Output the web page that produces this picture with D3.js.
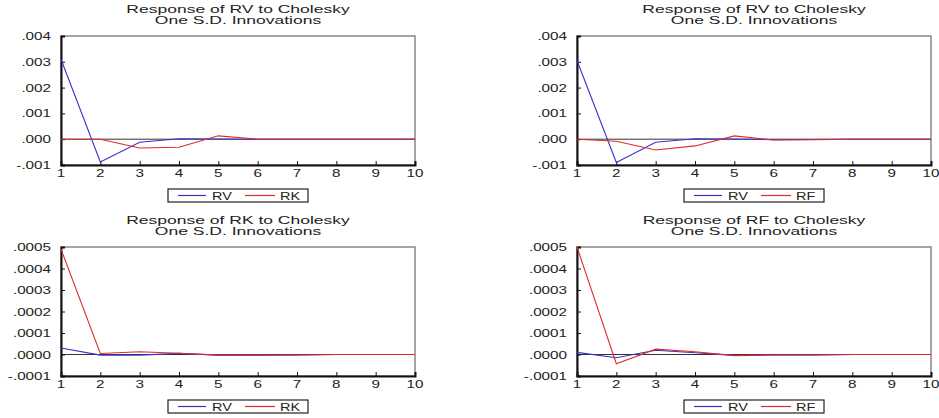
<!DOCTYPE html>
<html><head><meta charset="utf-8">
<script src="https://cdn.jsdelivr.net/npm/d3@7"></script>
<style>body{margin:0;background:#fff}svg{display:block}text{font-family:"Liberation Sans",Arial,sans-serif;fill:#222}</style>
</head><body><svg id="c" width="939" height="418"></svg>
<script>
const periods = [1,2,3,4,5,6,7,8,9,10];
const titles = ["Response of RV to Cholesky","Response of RV to Cholesky","Response of RK to Cholesky","Response of RF to Cholesky"];
const subtitle = "One S.D. Innovations";
const seriesNames = [["RV","RK"],["RV","RF"],["RV","RK"],["RV","RF"]];
const p1_RV = [0.0031,-0.00088,-0.00012,0.00002,0.00001,0,0,0,0,0];
const p1_RK = [0,0,-0.00034,-0.00031,0.00013,0,0,0,0,0];
const p2_RV = [0.00305,-0.0009,-0.00012,0.00002,0.00001,-0.00002,-0.00001,0,0,0];
const p2_RF = [0,-0.00008,-0.00042,-0.00026,0.00013,-0.00003,-0.00002,0,0,0];
const p3_RV = [0.00003,-0.000003,-0.000003,0.000005,-0.000003,-0.000003,-0.000002,0,0,0];
const p3_RK = [0.00049,0.000005,0.000013,0.000006,-0.000003,-0.000003,-0.000002,0,0,0];
const p4_RV = [0.00001,-0.000015,0.00002,0.000008,-0.000004,-0.000002,-0.000002,0,0,0];
const p4_RF = [0.0005,-0.000043,0.000025,0.000013,-0.000005,-0.000002,-0.000002,0,0,0];
const yTicksTop = [-0.001,0,0.001,0.002,0.003,0.004];
const yLabelsTop = ["-.001",".000",".001",".002",".003",".004"];
const yTicksBot = [-0.0001,0,0.0001,0.0002,0.0003,0.0004,0.0005];
const yLabelsBot = ["-.0001",".0000",".0001",".0002",".0003",".0004",".0005"];

const panels = [
  {title:titles[0], names:seriesNames[0], data:[p1_RV,p1_RK], ticks:yTicksTop, labels:yLabelsTop, left:61, top:36},
  {title:titles[1], names:seriesNames[1], data:[p2_RV,p2_RF], ticks:yTicksTop, labels:yLabelsTop, left:577, top:36},
  {title:titles[2], names:seriesNames[2], data:[p3_RV,p3_RK], ticks:yTicksBot, labels:yLabelsBot, left:61, top:247},
  {title:titles[3], names:seriesNames[3], data:[p4_RV,p4_RF], ticks:yTicksBot, labels:yLabelsBot, left:577, top:247}
];
const W = 354, H = 129, SX = 1.45;
const colors = ["#3333cc","#e02a2a"];
const svg = d3.select("#c");

function stext(g, x, y, str, size, anchor, sx){
  return g.append("text").attr("transform",`translate(${x},${y}) scale(${sx||SX},1)`)
   .attr("text-anchor",anchor).style("font-size",size+"px").text(str);
}

panels.forEach(p=>{
  const g = svg.append("g");
  const x = d3.scaleLinear().domain([1,10]).range([p.left,p.left+W]);
  const y = d3.scaleLinear().domain([p.ticks[0],p.ticks[p.ticks.length-1]]).range([p.top+H,p.top]);
  stext(g, p.left+W/2, p.top-23, p.title, 10, "middle", 1.75);
  stext(g, p.left+W/2, p.top-12, subtitle, 10, "middle", 1.75);
  g.append("rect").attr("x",p.left).attr("y",p.top).attr("width",W).attr("height",H)
   .attr("fill","none").attr("stroke","#6a6a6a").attr("stroke-width",1.2);
  g.append("line").attr("x1",p.left).attr("x2",p.left+W).attr("y1",y(0)).attr("y2",y(0))
   .attr("stroke","#333").attr("stroke-width",1);
  const ya = d3.axisLeft(y).tickValues(p.ticks).tickSize(-4).tickFormat("");
  const yg = g.append("g").attr("transform",`translate(${p.left},0)`).call(ya);
  yg.select(".domain").attr("stroke","#111").attr("stroke-width",2);
  yg.selectAll(".tick line").attr("stroke","#111");
  p.ticks.forEach((t,i)=>{
    stext(g, p.left-10, y(t)+4, p.labels[i], 10.5, "end");
  });
  const xa = d3.axisBottom(x).tickValues(periods).tickSize(-4).tickFormat("");
  const xg = g.append("g").attr("transform",`translate(0,${p.top+H})`).call(xa);
  xg.select(".domain").attr("stroke","#111").attr("stroke-width",2);
  xg.selectAll(".tick line").attr("stroke","#111");
  periods.forEach(d=>{
    stext(g, x(d), p.top+H+12, d3.format("d")(d), 10.5, "middle");
  });
  const line = d3.line().x((d,i)=>x(periods[i])).y(d=>y(d));
  p.data.forEach((s,k)=>{
    g.append("path").datum(s).attr("d",line).attr("fill","none")
     .attr("stroke",colors[k]).attr("stroke-width",1.1);
  });
  const lx = p.left+107, ly = p.top+153;
  const lg = g.append("g");
  lg.append("rect").attr("x",lx).attr("y",ly).attr("width",140).attr("height",13)
    .attr("fill","#fff").attr("stroke","#222").attr("stroke-width",1.2);
  lg.append("line").attr("x1",lx+10).attr("x2",lx+38).attr("y1",ly+6.5).attr("y2",ly+6.5)
    .attr("stroke",colors[0]).attr("stroke-width",1.2);
  stext(lg, lx+44, ly+10.5, p.names[0], 10, "start");
  lg.append("line").attr("x1",lx+77).attr("x2",lx+107).attr("y1",ly+6.5).attr("y2",ly+6.5)
    .attr("stroke",colors[1]).attr("stroke-width",1.2);
  stext(lg, lx+112, ly+10.5, p.names[1], 10, "start");
});
</script></body></html>
